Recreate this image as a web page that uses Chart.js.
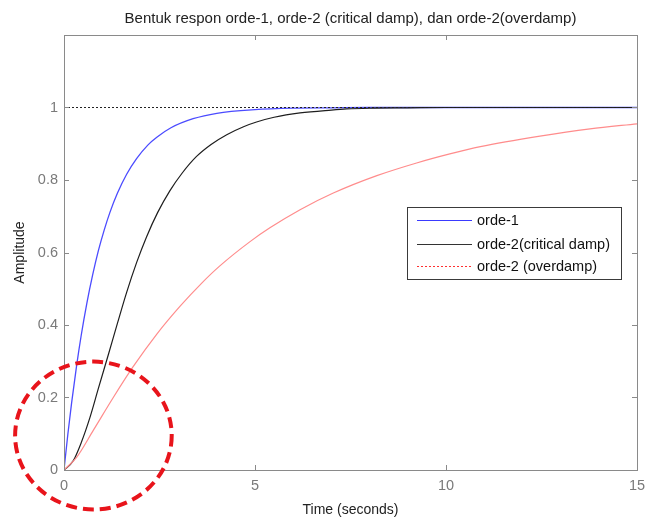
<!DOCTYPE html>
<html lang="id">
<head>
<meta charset="UTF-8">
<title>Bentuk respon orde-1, orde-2</title>
<script src="https://cdn.jsdelivr.net/npm/chart.js"></script>
<style>
  html, body { margin: 0; padding: 0; background: #fff; }
  #wrap { width: 657px; height: 519px; }
</style>
</head>
<body>
<div id="wrap"><canvas id="chart"></canvas></div>
<script>
    // data (waktu dalam detik, amplitudo)
    const judul = 'Bentuk respon orde-1, orde-2 (critical damp), dan orde-2(overdamp)';
    const labelSeri = ['orde-1', 'orde-2(critical damp)', 'orde-2 (overdamp)'];

    const waktuOrde1 = [0, 0.1, 0.2, 0.33, 0.45, 0.6, 0.75, 0.9, 1.05, 1.2, 1.4, 1.64, 1.9, 2.2, 2.43, 2.8, 3.38, 4, 5, 6, 7, 8, 9, 10, 12, 15];
    const ampOrde1   = [0, 0.098, 0.186, 0.288, 0.371, 0.461, 0.538, 0.605, 0.661, 0.71, 0.764, 0.816, 0.859, 0.897, 0.918, 0.944, 0.969, 0.984, 0.994, 0.998, 0.999, 1, 1, 1, 1, 1];

    const waktuKritis = [0, 0.24, 0.45, 0.68, 0.9, 1.16, 1.4, 1.64, 1.9, 2.16, 2.45, 2.77, 3.1, 3.47, 3.85, 4.26, 4.7, 5.04, 5.5, 6.18, 7, 7.4, 8, 9, 10, 12, 15];
    const ampKritis   = [0, 0.025, 0.075, 0.145, 0.225, 0.318, 0.405, 0.49, 0.572, 0.643, 0.71, 0.77, 0.82, 0.865, 0.898, 0.925, 0.947, 0.96, 0.973, 0.985, 0.993, 0.996, 0.998, 0.999, 1, 1, 1];

    const waktuOverdamp = [0, 0.33, 0.77, 1.29, 1.81, 2.43, 3.04, 3.6, 4.08, 4.87, 5.39, 6.18, 7.05, 8.19, 9.23, 10.1, 10.9, 12.46, 13.77, 15];
    const ampOverdamp   = [0, 0.035, 0.11, 0.20, 0.285, 0.375, 0.452, 0.515, 0.563, 0.63, 0.668, 0.718, 0.764, 0.812, 0.847, 0.872, 0.892, 0.921, 0.941, 0.955];

    const garisAcuan = [1, 1];          // garis putus-putus di amplitudo 1
    const tickX = [0, 5, 10, 15];
    const tickY = [0, 0.2, 0.4, 0.6, 0.8, 1, 1.2];

    // lingkaran merah (pusat & jari-jari dalam satuan data)
    const sorotan = { t: 0.77, amp: 0.095, rt: 2.05, ramp: 0.204 };

    const warna = ['#4b4bff', '#1e1e1e', '#ff8c8c'];
    const abu = '#8a8a8a';
    const huruf = '"Liberation Sans", Arial, sans-serif';

    function gabung(xs, ys) {
        return xs.map((x, i) => ({ x: x, y: ys[i] }));
    }

    // bingkai kotak + tick ke dalam ala MATLAB, legenda, dan lingkaran
    const bingkaiPlugin = {
        id: 'bingkai',
        afterDatasetsDraw(chart) {
            const ctx = chart.ctx;
            const a = chart.chartArea;
            const sx = chart.scales.x, sy = chart.scales.y;
            ctx.save();
            ctx.strokeStyle = abu;
            ctx.lineWidth = 1;
            ctx.strokeRect(Math.round(a.left) + 0.5, Math.round(a.top) + 0.5,
                Math.round(a.right - a.left), Math.round(a.bottom - a.top));
            ctx.beginPath();
            tickX.forEach(v => {
                const px = Math.round(sx.getPixelForValue(v)) + 0.5;
                ctx.moveTo(px, a.bottom); ctx.lineTo(px, a.bottom - 5);
                ctx.moveTo(px, a.top); ctx.lineTo(px, a.top + 5);
            });
            tickY.forEach(v => {
                const py = Math.round(sy.getPixelForValue(v)) + 0.5;
                ctx.moveTo(a.left, py); ctx.lineTo(a.left + 5, py);
                ctx.moveTo(a.right, py); ctx.lineTo(a.right - 5, py);
            });
            ctx.stroke();

            // legenda
            const lx = 407, ly = 207, lw = 214, lh = 72;
            ctx.fillStyle = '#fff';
            ctx.fillRect(lx, ly, lw, lh);
            ctx.strokeStyle = '#3a3a3a';
            ctx.strokeRect(lx + 0.5, ly + 0.5, lw, lh);
            const barisY = [220, 244, 266];
            ctx.font = '14.5px ' + huruf;
            ctx.textBaseline = 'middle';
            labelSeri.forEach((lbl, i) => {
                ctx.beginPath();
                ctx.strokeStyle = i === 2 ? '#ff3030' : (i === 0 ? '#3a3aff' : '#333');
                ctx.lineWidth = 1;
                ctx.setLineDash(i === 2 ? [2, 2] : []);
                ctx.moveTo(417, barisY[i] + 0.5);
                ctx.lineTo(472, barisY[i] + 0.5);
                ctx.stroke();
                ctx.setLineDash([]);
                ctx.fillStyle = '#111';
                ctx.fillText(lbl, 477, barisY[i] + 1);
            });
            ctx.restore();
        },
        afterDraw(chart) {
            const ctx = chart.ctx;
            const sx = chart.scales.x, sy = chart.scales.y;
            const cx = sx.getPixelForValue(sorotan.t);
            const cy = sy.getPixelForValue(sorotan.amp);
            const rx = sx.getPixelForValue(sorotan.t + sorotan.rt) - cx;
            const ry = cy - sy.getPixelForValue(sorotan.amp + sorotan.ramp);
            ctx.save();
            ctx.strokeStyle = '#e8141b';
            ctx.lineWidth = 4;
            ctx.setLineDash([11, 6]);
            ctx.beginPath();
            ctx.ellipse(cx, cy, rx, ry, 0, 0, Math.PI * 2);
            ctx.stroke();
            ctx.restore();
        }
    };

    const chart = new Chart(document.getElementById('chart').getContext('2d'), {
        type: 'line',
        data: {
            datasets: [
                {
                    label: 'acuan',
                    data: gabung([0, 15], garisAcuan),
                    borderColor: '#222',
                    borderWidth: 1,
                    borderDash: [2, 2],
                    pointRadius: 0
                },
                {
                    label: labelSeri[2],
                    data: gabung(waktuOverdamp, ampOverdamp),
                    borderColor: warna[2],
                    borderWidth: 1.2,
                    pointRadius: 0,
                    cubicInterpolationMode: 'monotone'
                },
                {
                    label: labelSeri[1],
                    data: gabung(waktuKritis, ampKritis),
                    borderColor: warna[1],
                    borderWidth: 1.2,
                    pointRadius: 0,
                    cubicInterpolationMode: 'monotone'
                },
                {
                    label: labelSeri[0],
                    data: gabung(waktuOrde1, ampOrde1),
                    borderColor: warna[0],
                    borderWidth: 1.3,
                    pointRadius: 0,
                    cubicInterpolationMode: 'monotone'
                }
            ]
        },
        options: {
            responsive: true,
            maintainAspectRatio: false,
            animation: false,
            layout: { padding: { left: 0, right: 20, top: 0, bottom: 0 } },
            plugins: {
                legend: { display: false },
                tooltip: { enabled: false },
                title: {
                    display: true,
                    fullSize: false,
                    text: judul,
                    color: '#222',
                    font: { family: huruf, size: 15, weight: 'normal' },
                    padding: { top: 10, bottom: 7 }
                }
            },
            scales: {
                x: {
                    type: 'linear',
                    min: 0,
                    max: 15,
                    afterFit: s => { s.height = 49; },
                    afterBuildTicks: s => { s.ticks = tickX.map(v => ({ value: v })); },
                    grid: { display: false, drawTicks: false },
                    border: { display: false },
                    ticks: {
                        color: '#7a7a7a',
                        padding: 7,
                        maxRotation: 0,
                        font: { family: huruf, size: 14.5 }
                    },
                    title: {
                        display: true,
                        text: 'Time (seconds)',
                        color: '#222',
                        font: { family: huruf, size: 14 },
                        padding: { top: 0, bottom: 0 }
                    }
                },
                y: {
                    min: 0,
                    max: 1.2,
                    afterFit: s => { s.width = 64; },
                    afterBuildTicks: s => { s.ticks = tickY.map(v => ({ value: v })); },
                    grid: { display: false, drawTicks: false },
                    border: { display: false },
                    ticks: {
                        color: '#7a7a7a',
                        padding: 6,
                        font: { family: huruf, size: 14.5 },
                        callback: v => v > 1.1 ? '' : String(Math.round(v * 10) / 10)
                    },
                    title: {
                        display: true,
                        text: 'Amplitude',
                        color: '#222',
                        font: { family: huruf, size: 14 },
                        padding: { top: 12, bottom: 0 }
                    }
                }
            }
        },
        plugins: [bingkaiPlugin]
    });
</script>
</body>
</html>
